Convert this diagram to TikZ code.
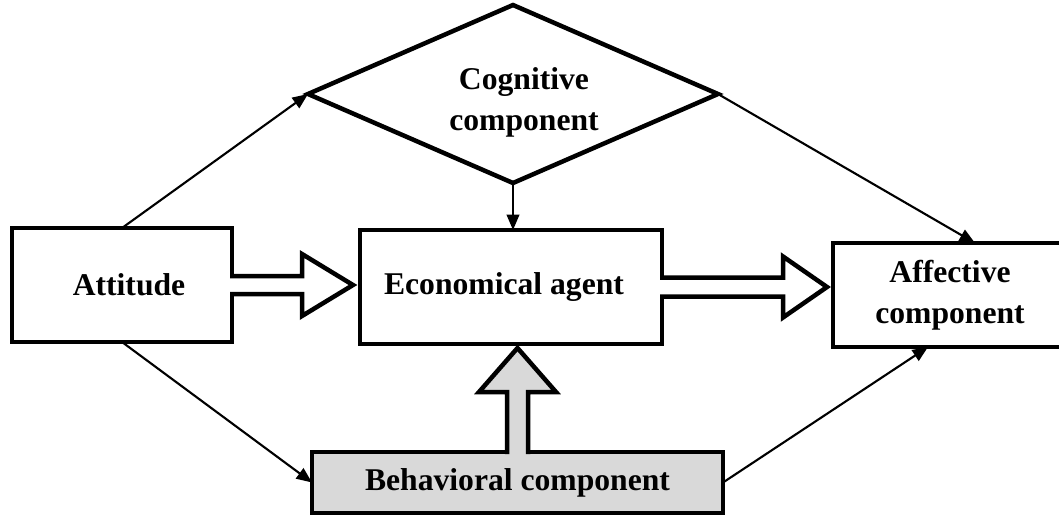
\documentclass[tikz,border=0pt]{standalone}
\usepackage{fontspec}
\setmainfont{Liberation Serif}
\usepackage{xcolor}
\usepackage{tikz}
\usetikzlibrary{positioning,shapes,arrows.meta}

\begin{document}
\begin{tikzpicture}[
            x=0.025cm, y=-0.025cm,
            box/.style={rectangle, draw, line width=3.2pt, outer sep=0pt, inner sep=0pt,
                align=center, font=\fontsize{22.5}{29}\selectfont\bfseries},
            thinarrow/.style={-{Triangle[length=11pt,width=9pt]}, line width=1.5pt},
            fatarrow/.style={line width=3.2pt, line join=miter},
            auto
        ]
            \useasboundingbox (0,0) rectangle (1059,515);
            % Vertices
            \node[box, minimum width=220*0.025cm, minimum height=114*0.025cm] (att) at (122,285) {\hspace*{0.35cm}Attitude};
            \node[box, minimum width=302*0.025cm, minimum height=114*0.025cm] (eco) at (511,287) {Economical agent\hspace*{0.35cm}};
            \node[box, minimum width=234*0.025cm, minimum height=104*0.025cm] (aff) at (950,295) {Affective\\component};
            \node[box, fill=gray!30, minimum width=411*0.025cm, minimum height=61*0.025cm] (beh) at (517.5,482.5) {Behavioral component};
            \node[box, diamond, aspect=2.3, minimum width=410*0.025cm, minimum height=178*0.025cm] (cog) at (513,94)
                {\hspace*{0.55cm}\rule{0pt}{27pt}Cognitive\\\hspace*{0.55cm}component};
            % Thin edges
            \draw[thinarrow] (att.north) -- (cog.west);
            \draw[thinarrow] (cog.east) -- ([xshift=25*0.025cm]aff.north);
            \draw[thinarrow] (att.south) -- (beh.west);
            \draw[thinarrow] (beh.east) -- ([xshift=-22*0.025cm]aff.south);
            \draw[thinarrow] (cog.south) -- (cog.south |- eco.north);
            % Block arrows
            \fill[white] (att.east) ++(-3,-9) -- ++(73,0) -- ++(0,-22) -- ++(51,31) -- ++(-51,31) -- ++(0,-22) -- ++(-73,0) -- cycle;
            \draw[fatarrow] (att.east) ++(-2,-9) -- ++(72,0) -- ++(0,-22) -- ++(51,31) -- ++(-51,31) -- ++(0,-22) -- ++(-72,0);
            \fill[white] (eco.east) ++(-3,-9.5) -- ++(124,0) -- ++(0,-21) -- ++(44,30.5) -- ++(-44,30.5) -- ++(0,-21) -- ++(-124,0) -- cycle;
            \draw[fatarrow] (eco.east) ++(-2,-9.5) -- ++(123,0) -- ++(0,-21) -- ++(44,30.5) -- ++(-44,30.5) -- ++(0,-21) -- ++(-123,0);
            \fill[gray!30] (beh.north) ++(-10.5,3) -- ++(0,-63) -- ++(-28,0) -- ++(38.5,-44) -- ++(38.5,44) -- ++(-28,0) -- ++(0,63) -- cycle;
            \draw[fatarrow] (beh.north) ++(-10.5,2) -- ++(0,-62) -- ++(-28,0) -- ++(38.5,-44) -- ++(38.5,44) -- ++(-28,0) -- ++(0,62);
        \end{tikzpicture}
\end{document}
